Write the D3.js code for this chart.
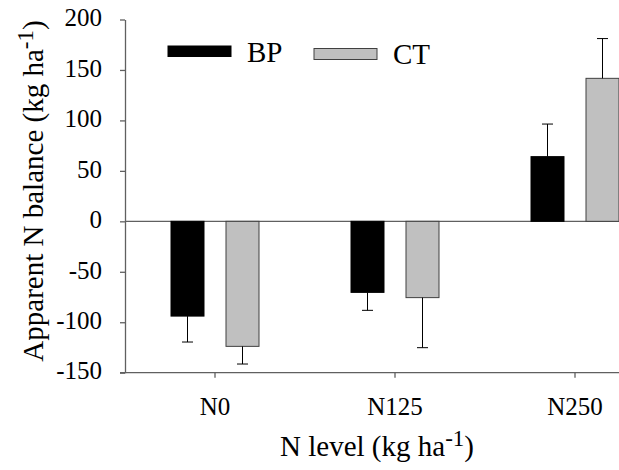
<!DOCTYPE html>
<html>
<head>
<meta charset="utf-8">
<script src="https://cdn.jsdelivr.net/npm/d3@7"></script>
</head>
<body style="margin:0; font-family: 'Liberation Serif', serif;">
<script>
//chart data
var levels = ["N0", "N125", "N250"];
var treatments = ["BP", "CT"];
var bpValues = [-93.9, -70.4, 64.1];
var bpErrors = [25.7, 17.8, 32.3];
var ctValues = [-123.9, -75.6, 141.7];
var ctErrors = [17.5, 49.6, 39.4];
var yTicks = [-150, -100, -50, 0, 50, 100, 150, 200];

var width = 619,
    height = 470;

var axisColor = "#606060";
var fills = { BP: "#000000", CT: "#c0c0c0" };
var strokes = { BP: "#000000", CT: "#404040" };

//build rows for each bar
var rows = [];
levels.forEach(function(lev, i){
    rows.push({ level: lev, trt: "BP", value: bpValues[i], err: bpErrors[i] });
    rows.push({ level: lev, trt: "CT", value: ctValues[i], err: ctErrors[i] });
});

var svg = d3.select("body")
    .append("svg")
    .attr("width", width)
    .attr("height", height)
    .style("font-family", "'Liberation Serif'");

//serif text helper, same font call for every label
function serifText(sel, size){
    return sel.style("font-family", function(){ return "'Liberation Serif'"; })
        .attr("font-size", size);
}

//scales
var y = d3.scaleLinear()
    .domain([-150, 200])
    .range([372.7, 19.5]);

var x = d3.scaleBand()
    .domain(levels)
    .range([125, 665])
    .padding(0);

var xInner = d3.scaleBand()
    .domain(treatments)
    .range([46, 134])
    .paddingInner(0.4);

//zero line
svg.append("line")
    .attr("x1", 125)
    .attr("x2", width)
    .attr("y1", y(0))
    .attr("y2", y(0))
    .attr("stroke", axisColor)
    .attr("stroke-width", 1.3);

//bars
svg.selectAll(".bar")
    .data(rows)
    .enter()
    .append("rect")
    .attr("class", "bar")
    .attr("x", function(d){ return x(d.level) + xInner(d.trt); })
    .attr("width", xInner.bandwidth())
    .attr("y", function(d){ return y(Math.max(0, d.value)); })
    .attr("height", function(d){ return Math.abs(y(d.value) - y(0)); })
    .attr("fill", function(d){ return fills[d.trt]; })
    .attr("stroke", function(d){ return strokes[d.trt]; })
    .attr("stroke-width", 1);

//error bars, drawn away from zero only
function errEnd(d){ return d.value < 0 ? d.value - d.err : d.value + d.err; }
function barMid(d){ return x(d.level) + xInner(d.trt) + xInner.bandwidth() / 2; }

var errs = svg.selectAll(".err")
    .data(rows)
    .enter()
    .append("g")
    .attr("class", "err");

errs.append("line")
    .attr("x1", barMid)
    .attr("x2", barMid)
    .attr("y1", function(d){ return y(d.value); })
    .attr("y2", function(d){ return y(errEnd(d)); })
    .attr("stroke", "#000")
    .attr("stroke-width", 1);

errs.append("line")
    .attr("x1", function(d){ return barMid(d) - 5.5; })
    .attr("x2", function(d){ return barMid(d) + 5.5; })
    .attr("y1", function(d){ return y(errEnd(d)); })
    .attr("y2", function(d){ return y(errEnd(d)); })
    .attr("stroke", "#000")
    .attr("stroke-width", 1);

//axes
function styleAxis(g){
    g.attr("font-family", null).attr("font-size", null);
    g.selectAll("path, line")
        .attr("stroke", axisColor)
        .attr("stroke-width", 1.3);
    serifText(g.selectAll("text"), 25).attr("fill", "#000");
}

var yAxis = svg.append("g")
    .attr("transform", "translate(125,0)")
    .call(d3.axisLeft(y).tickValues(yTicks).tickSize(5).tickSizeOuter(0).tickPadding(18)
        .tickFormat(function(d){ return String(d); }));
styleAxis(yAxis);
yAxis.selectAll("text").attr("dy", "0.25em");

var xAxis = svg.append("g")
    .attr("transform", "translate(0," + y(-150) + ")")
    .call(d3.axisBottom(x).tickSize(5).tickSizeOuter(0).tickPadding(19.5));
xAxis.select(".domain").attr("d", "M120,0H" + width);
styleAxis(xAxis);

//axis titles with superscript
function addTitle(t, label){
    serifText(t, 29).attr("text-anchor", "middle");
    t.append("tspan").text(label);
    t.append("tspan").attr("font-size", 23).attr("dy", -10).text("-1");
    t.append("tspan").attr("dy", 10).text(")");
}

addTitle(svg.append("text").attr("transform", "translate(43,191) rotate(-90)"),
    "Apparent N balance (kg ha");

addTitle(svg.append("text").attr("x", 377).attr("y", 456),
    "N level (kg ha");

//legend
var legendPos = [
    { x: 168, y: 46, h: 10.5, tx: 247, ty: 62 },
    { x: 314, y: 48.5, h: 11, tx: 393, ty: 64 }
];
var legend = svg.selectAll(".legend")
    .data(treatments)
    .enter()
    .append("g")
    .attr("class", "legend");

legend.append("rect")
    .attr("x", function(d, i){ return legendPos[i].x; })
    .attr("y", function(d, i){ return legendPos[i].y; })
    .attr("width", 63)
    .attr("height", function(d, i){ return legendPos[i].h; })
    .attr("fill", function(d){ return fills[d]; })
    .attr("stroke", function(d){ return strokes[d]; });

serifText(legend.append("text"), 29)
    .attr("x", function(d, i){ return legendPos[i].tx; })
    .attr("y", function(d, i){ return legendPos[i].ty; })
    .text(function(d){ return d; });
</script>
</body>
</html>
